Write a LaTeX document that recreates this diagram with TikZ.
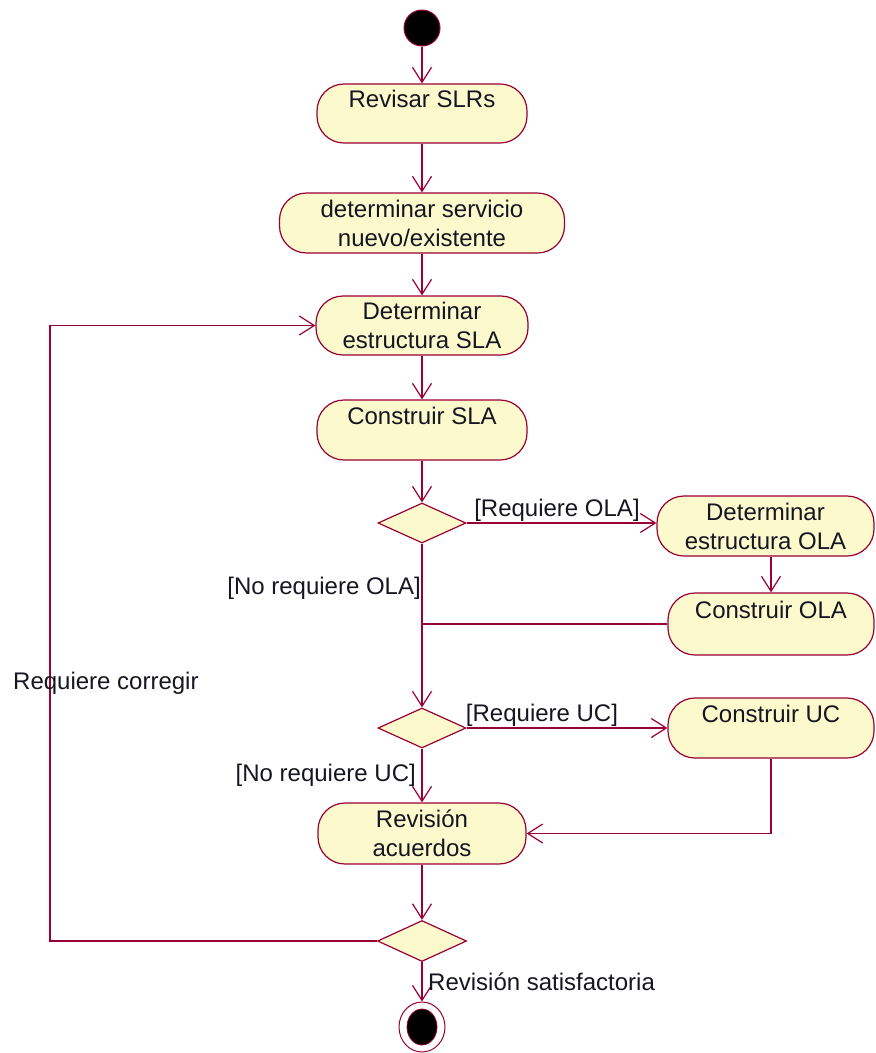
\documentclass[tikz,border=0pt]{standalone}
\usepackage{fontspec}
\setmainfont{Liberation Sans}
\usetikzlibrary{arrows.meta,shapes.geometric}
\definecolor{rose}{RGB}{153,0,51}
\definecolor{actfill}{RGB}{252,249,204}
\definecolor{ink}{RGB}{22,22,34}

\begin{document}
\begin{tikzpicture}[x=1pt,y=-1pt,
  font=\fontsize{24}{29}\selectfont,
  every node/.style={text=ink},
  activity/.style={draw=rose, fill=actfill, line width=1.2pt, rounded corners=27pt,
    align=center, inner sep=0pt},
  choice/.style={diamond, draw=rose, fill=actfill, line width=1.2pt, inner sep=0pt,
    minimum width=88pt, minimum height=40pt},
  flow/.style={draw=rose, line width=1.2pt, -{Straight Barb[length=15pt,width=19pt]}},
  link/.style={draw=rose, line width=1.2pt},
  guard/.style={inner sep=0pt}
]
\useasboundingbox (0,0) rectangle (876,1053);

% initial state
\node[circle, draw=rose, fill=black, line width=1pt, minimum size=36pt, inner sep=0pt] (start) at (422,28) {};

% activities on the main column
\node[activity, minimum width=210pt, minimum height=59pt] (rev) at (422,113.5) {Revisar SLRs\\\mbox{}};
\node[activity, minimum width=285pt, minimum height=60pt] (det) at (422,223) {determinar servicio\\nuevo/existente};
\node[activity, minimum width=212pt, minimum height=59pt] (dsla) at (422,325.5) {Determinar\\estructura SLA};
\node[activity, minimum width=210pt, minimum height=60pt] (csla) at (422,430) {Construir SLA\\\mbox{}};
\node[choice] (d1) at (422,523) {};

% OLA branch
\node[activity, minimum width=217pt, minimum height=60pt] (dola) at (765.5,526) {Determinar\\estructura OLA};
\node[activity, minimum width=206pt, minimum height=62pt] (cola) at (771,624) {Construir OLA\\\mbox{}};
\coordinate (join) at (422,624);

% UC branch
\node[choice] (d2) at (422,728) {};
\node[activity, minimum width=206pt, minimum height=60pt] (cuc) at (771,728) {Construir UC\\\mbox{}};

% review
\node[activity, minimum width=208pt, minimum height=61pt] (rac) at (422,833.5) {Revisión\\acuerdos};
\node[choice, minimum width=89pt, minimum height=41pt] (d3) at (422,941) {};
\coordinate (back) at (50,941);

% final state
\node[ellipse, draw=rose, line width=1pt, minimum width=46pt, minimum height=50pt, inner sep=0pt] (fin) at (422,1027) {};
\node[ellipse, draw=rose, fill=black, line width=0.8pt, minimum width=30pt, minimum height=36pt, inner sep=0pt] (finin) at (422,1027) {};

% transitions
\draw[flow] (start) -- (rev);
\draw[flow] (rev) -- (det);
\draw[flow] (det) -- (dsla);
\draw[flow] (dsla) -- (csla);
\draw[flow] (csla) -- (d1);
\draw[flow] (d1.east) -- (d1.east -| dola.west);
\draw[flow] (dola.south -| cola.north) -- (cola.north);
\draw[link] (cola.west) -- (join);
\draw[flow] (d1.south) -- (d2.north);
\draw[flow] (d2.east) -- (d2.east -| cuc.west);
\draw[flow] (d2.south) -- (rac.north);
\draw[flow] (cuc.south) |- (rac.east);
\draw[flow] (rac) -- (d3);
\draw[flow] (d3.west) -- (back) |- (dsla.west);
\draw[flow] (d3.south) -- (fin.north);

% guards
\node[guard] (gola) at (557,510) {[Requiere OLA]};
\node[guard, anchor=east] (gnola) at (421,588) {[No requiere OLA]};
\node[guard] (guc) at (542,715) {[Requiere UC]};
\node[guard, anchor=east] (gnuc) at (416,775) {[No requiere UC]};
\node[guard, anchor=west] (gfix) at (13,683) {Requiere corregir};
\node[guard, anchor=west] (gok) at (428,982) {Revisión satisfactoria};
\end{tikzpicture}
\end{document}
